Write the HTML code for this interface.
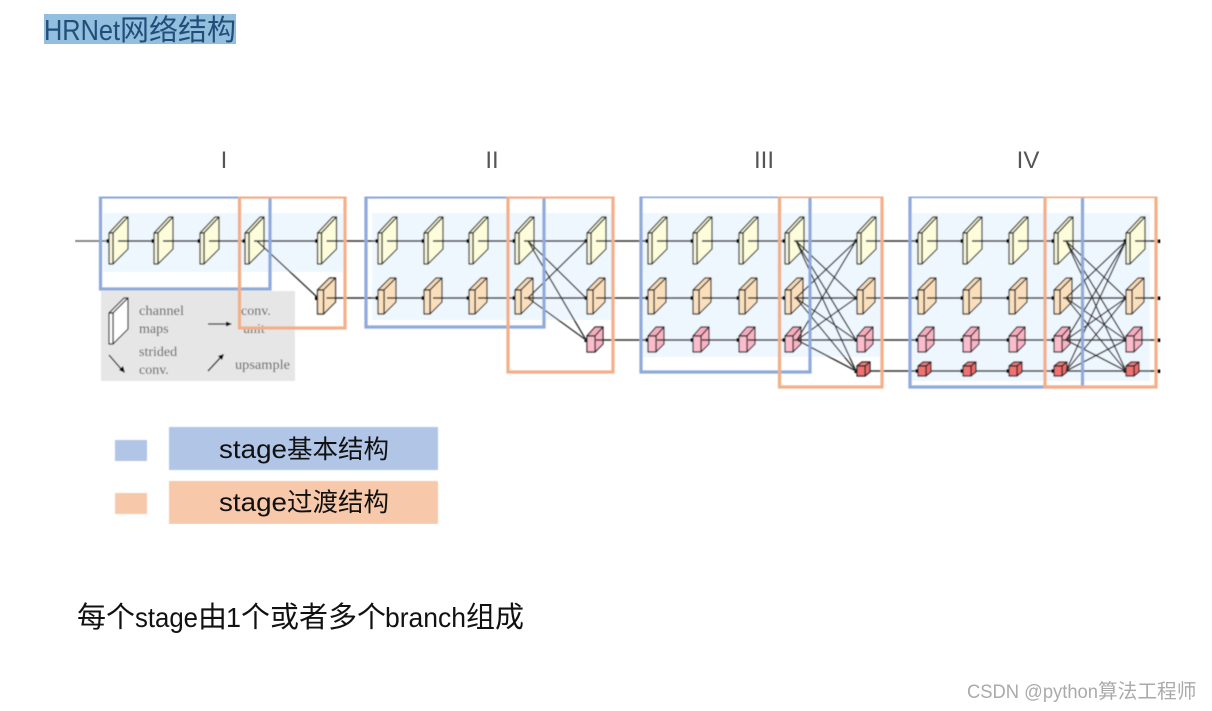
<!DOCTYPE html>
<html>
<head>
<meta charset="utf-8">
<style>
html,body{margin:0;padding:0;background:#fff;width:1212px;height:711px;overflow:hidden}
svg{display:block}
.cj{font-family:"Liberation Sans","Noto Sans CJK SC",sans-serif}
.lg{font-family:"Liberation Serif",serif;font-size:14px;fill:#5c5c5c}
</style>
</head>
<body>
<svg width="1212" height="711" viewBox="0 0 1212 711" xmlns="http://www.w3.org/2000/svg">
<defs>
<filter id="soft" x="0" y="0" width="100%" height="100%"><feGaussianBlur stdDeviation="0.4"/></filter>
<g id="a" stroke="#1c1c1c" stroke-width="1.2" stroke-linejoin="round">
  <rect x="-2.500" y="-2" width="3.500" height="4" fill="#000" stroke="none"/>
  <polygon points="0,-8 15,-24 19,-24 4,-8" fill="#efefd0"/>
  <polygon points="4,-8 19,-24 19,8 4,23" fill="#fdfddc"/>
  <polygon points="0,-8 4,-8 4,23 0,23" fill="#f6f6d8"/>
  <line x1="9" y1="0" x2="19" y2="0" stroke="#333" stroke-width="1.5"/>
</g>
<g id="b" stroke="#1c1c1c" stroke-width="1.2" stroke-linejoin="round">
  <rect x="-2.500" y="-2" width="3.500" height="4" fill="#000" stroke="none"/>
  <polygon points="0,-8 12,-20 18,-20 6,-8" fill="#f6d9b4"/>
  <polygon points="6,-8 18,-20 18,4 6,16" fill="#fbdfbd"/>
  <polygon points="0,-8 6,-8 6,16 0,16" fill="#fbe0be"/>
  <line x1="9" y1="0" x2="18" y2="0" stroke="#333" stroke-width="1.5"/>
</g>
<g id="c" stroke="#1c1c1c" stroke-width="1.2" stroke-linejoin="round">
  <rect x="-2.500" y="-2" width="3.500" height="4" fill="#000" stroke="none"/>
  <polygon points="0,-4 8,-13 16,-13 8,-4" fill="#f5adbd"/>
  <polygon points="8,-4 16,-13 16,4 8,12" fill="#f9b4c4"/>
  <polygon points="0,-4 8,-4 8,12 0,12" fill="#fbbccb"/>
  <line x1="9" y1="0" x2="16" y2="0" stroke="#333" stroke-width="1.5"/>
</g>
<g id="d" stroke="#1c1c1c" stroke-width="1.2" stroke-linejoin="round">
  <rect x="-2.500" y="-2" width="3.500" height="4" fill="#000" stroke="none"/>
  <polygon points="0,-5 5,-9 13,-9 8,-5" fill="#ef7c7c"/>
  <polygon points="8,-5 13,-9 13,1 8,5" fill="#ea6a6a"/>
  <polygon points="0,-5 8,-5 8,5 0,5" fill="#f07272"/>
</g>
</defs>

<rect x="44" y="14" width="192" height="30" fill="#93bedd"/>
<text x="44" y="40" class="cj" font-size="29" fill="#1f4e79" textLength="76" lengthAdjust="spacingAndGlyphs">HRNet</text>
<text x="120" y="40" class="cj" font-size="29" fill="#1f4e79">网络结构</text>

<g class="cj" font-size="24" fill="#555" text-anchor="middle">
  <text x="224" y="168">I</text>
  <text x="492" y="168">II</text>
  <text x="764" y="168">III</text>
  <text x="1028" y="168">IV</text>
</g>

<g filter="url(#soft)">
  <rect x="103" y="213" width="240" height="59" fill="#eef6fe"/>
  <rect x="372" y="213" width="240" height="107" fill="#eef6fe"/>
  <rect x="641" y="213" width="240" height="144" fill="#eef6fe"/>
  <rect x="910" y="213" width="240" height="168" fill="#eef6fe"/>

  <rect x="101" y="291" width="194" height="90" fill="#e6e6e6"/>
  <g stroke="#1c1c1c" fill="#fff" stroke-width="1.2" stroke-linejoin="round">
    <polygon points="109,313 124,298 128,298 113,313" fill="#f0f0f0"/>
    <polygon points="113,313 128,298 128,329 113,344"/>
    <rect x="109" y="313" width="4" height="31"/>
  </g>
  <text class="lg" x="139" y="315" textLength="45" lengthAdjust="spacingAndGlyphs">channel</text>
  <text class="lg" x="139" y="333">maps</text>
  <text class="lg" x="139" y="356">strided</text>
  <text class="lg" x="139" y="374">conv.</text>
  <text class="lg" x="241" y="315">conv.</text>
  <text class="lg" x="243" y="333">unit</text>
  <text class="lg" x="235" y="369" textLength="55" lengthAdjust="spacingAndGlyphs">upsample</text>
  <g stroke="#111" stroke-width="1.3" fill="#000">
    <line x1="208" y1="324" x2="228" y2="324"/><polygon points="232,324 226,321.500 226,326.500" stroke="none"/>
    <line x1="109" y1="355" x2="122" y2="370"/><polygon points="125,373 119,370 123,366" stroke="none"/>
    <line x1="208" y1="371" x2="221" y2="357"/><polygon points="224,354 222,360 218,356" stroke="none"/>
  </g>

  <g stroke="#333" stroke-width="1.600">
    <line x1="75" y1="241" x2="110" y2="241" stroke="#666"/>
    <line x1="110" y1="241" x2="1160" y2="241"/>
    <line x1="325" y1="298" x2="1160" y2="298"/>
    <line x1="596" y1="340" x2="1160" y2="340"/>
    <line x1="860" y1="371" x2="1160" y2="371"/>
  </g>
  <g fill="#000">
    <rect x="1157" y="239.500" width="3.500" height="3.500"/>
    <rect x="1157" y="296.500" width="3.500" height="3.500"/>
    <rect x="1157" y="338.500" width="3.500" height="3.500"/>
    <rect x="1157" y="369.500" width="3.500" height="3.500"/>
  </g>

  <use href="#a" x="109" y="241"/><use href="#a" x="154" y="241"/><use href="#a" x="200" y="241"/><use href="#a" x="245" y="241"/><use href="#a" x="317.500" y="241"/>
  <use href="#a" x="378" y="241"/><use href="#a" x="424" y="241"/><use href="#a" x="469" y="241"/><use href="#a" x="515" y="241"/><use href="#a" x="587" y="241"/>
  <use href="#a" x="648" y="241"/><use href="#a" x="693" y="241"/><use href="#a" x="739" y="241"/><use href="#a" x="785" y="241"/><use href="#a" x="857" y="241"/>
  <use href="#a" x="918" y="241"/><use href="#a" x="963" y="241"/><use href="#a" x="1009" y="241"/><use href="#a" x="1054" y="241"/><use href="#a" x="1126" y="241"/>

  <use href="#b" x="317.500" y="298"/>
  <use href="#b" x="378" y="298"/><use href="#b" x="424" y="298"/><use href="#b" x="469" y="298"/><use href="#b" x="515" y="298"/><use href="#b" x="587" y="298"/>
  <use href="#b" x="648" y="298"/><use href="#b" x="693" y="298"/><use href="#b" x="739" y="298"/><use href="#b" x="785" y="298"/><use href="#b" x="857" y="298"/>
  <use href="#b" x="918" y="298"/><use href="#b" x="963" y="298"/><use href="#b" x="1009" y="298"/><use href="#b" x="1054" y="298"/><use href="#b" x="1126" y="298"/>

  <use href="#c" x="587" y="340"/>
  <use href="#c" x="648" y="340"/><use href="#c" x="693" y="340"/><use href="#c" x="739" y="340"/><use href="#c" x="785" y="340"/><use href="#c" x="857" y="340"/>
  <use href="#c" x="918" y="340"/><use href="#c" x="963" y="340"/><use href="#c" x="1009" y="340"/><use href="#c" x="1054" y="340"/><use href="#c" x="1126" y="340"/>

  <use href="#d" x="857" y="371"/>
  <use href="#d" x="918" y="371"/><use href="#d" x="963" y="371"/><use href="#d" x="1009" y="371"/><use href="#d" x="1054" y="371"/><use href="#d" x="1126" y="371"/>

  <g stroke="#2c2c2c" stroke-width="1.300" fill="none">
    <line x1="257" y1="241" x2="317" y2="297"/>

    <line x1="528" y1="241" x2="586" y2="298"/>
    <line x1="528" y1="241" x2="586" y2="340"/>
    <line x1="528" y1="298" x2="586" y2="241"/>
    <line x1="528" y1="298" x2="586" y2="340"/>

    <line x1="796" y1="241" x2="856" y2="298"/>
    <line x1="796" y1="241" x2="856" y2="340"/>
    <line x1="796" y1="241" x2="856" y2="371"/>
    <line x1="796" y1="298" x2="856" y2="241"/>
    <line x1="796" y1="298" x2="856" y2="340"/>
    <line x1="796" y1="298" x2="856" y2="371"/>
    <line x1="797" y1="340" x2="856" y2="241"/>
    <line x1="797" y1="340" x2="856" y2="298"/>
    <line x1="797" y1="340" x2="856" y2="371"/>

    <line x1="1066" y1="241" x2="1126" y2="298"/>
    <line x1="1066" y1="241" x2="1126" y2="340"/>
    <line x1="1066" y1="241" x2="1126" y2="371"/>
    <line x1="1066" y1="298" x2="1126" y2="241"/>
    <line x1="1066" y1="298" x2="1126" y2="340"/>
    <line x1="1066" y1="298" x2="1126" y2="371"/>
    <line x1="1066" y1="340" x2="1126" y2="241"/>
    <line x1="1066" y1="340" x2="1126" y2="298"/>
    <line x1="1066" y1="340" x2="1126" y2="371"/>
    <line x1="1066" y1="371" x2="1126" y2="241"/>
    <line x1="1066" y1="371" x2="1126" y2="298"/>
    <line x1="1066" y1="371" x2="1126" y2="340"/>
  </g>

  <g fill="none" stroke-width="3.200">
    <rect x="100.500" y="197" width="169.500" height="92" stroke="#8fa9db"/>
    <rect x="366" y="197" width="178" height="130" stroke="#8fa9db"/>
    <rect x="641" y="196.500" width="169" height="175.500" stroke="#8fa9db"/>
    <rect x="910" y="196.500" width="172.500" height="190.500" stroke="#8fa9db"/>
    <rect x="239.500" y="197" width="105.500" height="131" stroke="#f3ae86"/>
    <rect x="508" y="197" width="105" height="175" stroke="#f3ae86"/>
    <rect x="779.500" y="196.500" width="102.500" height="190.500" stroke="#f3ae86"/>
    <rect x="1045" y="196.500" width="111" height="190.500" stroke="#f3ae86"/>
  </g>

  <rect x="115" y="440" width="32" height="21" fill="#b1c5e6"/>
  <rect x="169" y="427" width="269" height="43" fill="#b1c5e6"/>
  <rect x="115" y="493" width="32" height="21" fill="#f7c8a9"/>
  <rect x="169" y="481" width="269" height="43" fill="#f7c8a9"/>
</g>

<text x="219" y="458" class="cj" font-size="26" fill="#111" textLength="68" lengthAdjust="spacingAndGlyphs">stage</text>
<text x="287" y="458" class="cj" font-size="25.500" fill="#111">基本结构</text>
<text x="219" y="511" class="cj" font-size="26" fill="#111" textLength="68" lengthAdjust="spacingAndGlyphs">stage</text>
<text x="287" y="511" class="cj" font-size="25.500" fill="#111">过渡结构</text>

<g class="cj" font-size="29" fill="#111">
  <text x="77" y="627">每个</text>
  <text x="135" y="627" font-size="28" textLength="63" lengthAdjust="spacingAndGlyphs">stage</text>
  <text x="198" y="627">由</text>
  <text x="226" y="627" font-size="28" textLength="15" lengthAdjust="spacingAndGlyphs">1</text>
  <text x="241" y="627">个或者多个</text>
  <text x="385" y="627" font-size="28" textLength="81" lengthAdjust="spacingAndGlyphs">branch</text>
  <text x="466" y="627">组成</text>
</g>

<g class="cj" font-size="19.700" fill="#aaa">
  <text x="967" y="698" textLength="131" lengthAdjust="spacingAndGlyphs">CSDN @python</text>
  <text x="1098" y="698">算法工程师</text>
</g>
</svg>
</body>
</html>
